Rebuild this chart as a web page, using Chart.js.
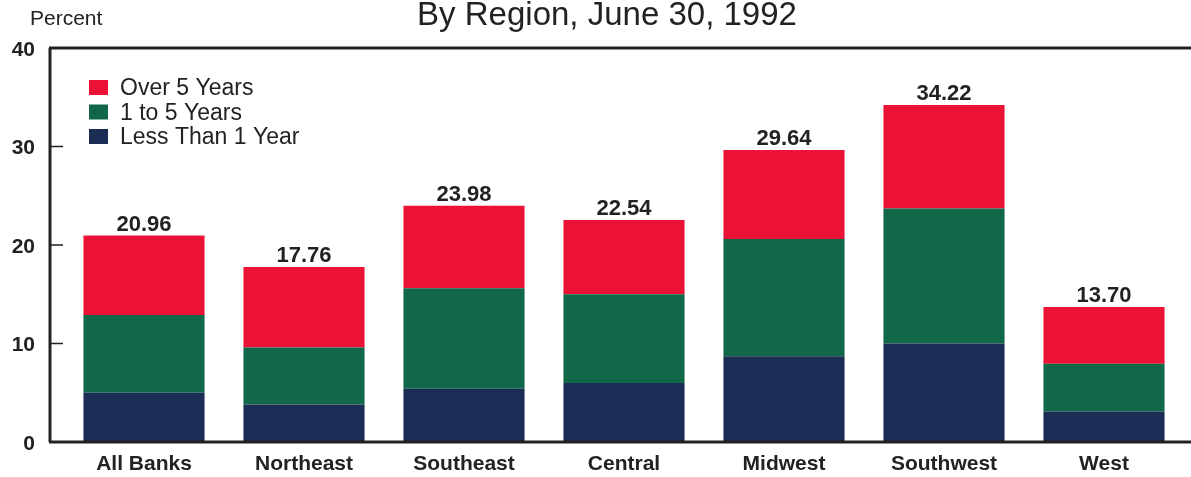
<!DOCTYPE html>
<html>
<head>
<meta charset="utf-8">
<script src="https://cdn.jsdelivr.net/npm/chart.js@4"></script>
<style>
  html, body { margin: 0; padding: 0; background: #fff; }
  #wrap { position: relative; width: 1191px; height: 477px; }
</style>
</head>
<body>
<div id="wrap"><canvas id="myChart" width="1191" height="477"></canvas></div>
<script>
const regions = ['All Banks', 'Northeast', 'Southeast', 'Central', 'Midwest', 'Southwest', 'West']
const lessThan1 = [5.0, 3.8, 5.4, 6.0, 8.7, 10.0, 3.1]
const oneTo5 = [7.9, 5.8, 10.2, 9.0, 11.9, 13.7, 4.85]
const over5 = [8.06, 8.16, 8.38, 7.54, 9.04, 10.52, 5.75]
const totals = ['20.96', '17.76', '23.98', '22.54', '29.64', '34.22', '13.70']
const yTicks = [0, 10, 20, 30, 40]

const RED = '#ec1236'
const GREEN = '#106848'
const NAVY = '#1b2d55'
const INK = '#222'
const FONT = '"Liberation Sans", Arial, sans-serif'

// axis frame, inward ticks, tick + value labels, legend, titles
const decor = {
  id: 'decor',
  afterDatasetsDraw(chart) {
    const ctx = chart.ctx
    const x = chart.scales.x
    const y = chart.scales.y
    const area = chart.chartArea
    const axisX = area.left - 14
    ctx.save()
    ctx.strokeStyle = INK
    ctx.lineWidth = 3
    ctx.beginPath()
    ctx.moveTo(axisX - 1, y.getPixelForValue(40))
    ctx.lineTo(1191, y.getPixelForValue(40))
    ctx.moveTo(axisX, y.getPixelForValue(40))
    ctx.lineTo(axisX, y.getPixelForValue(0))
    ctx.moveTo(axisX - 1, y.getPixelForValue(0))
    ctx.lineTo(1191, y.getPixelForValue(0))
    ctx.stroke()
    ctx.lineWidth = 1.5
    ctx.beginPath()
    yTicks.slice(1, 4).forEach(v => {
      const py = y.getPixelForValue(v)
      ctx.moveTo(axisX, py)
      ctx.lineTo(axisX + 13, py)
    })
    ctx.stroke()

    // y tick labels
    ctx.fillStyle = INK
    ctx.font = 'bold 21px ' + FONT
    ctx.textAlign = 'right'
    ctx.textBaseline = 'middle'
    yTicks.forEach(v => {
      ctx.fillText(String(v), 35, y.getPixelForValue(v) + 2)
    })

    // category labels under the axis
    ctx.textAlign = 'center'
    regions.forEach((r, i) => {
      ctx.fillText(r, x.getPixelForValue(i), y.getPixelForValue(0) + 22)
    })

    // totals above bars
    const top = chart.getDatasetMeta(2)
    ctx.font = 'bold 22px ' + FONT
    ctx.textBaseline = 'alphabetic'
    top.data.forEach((bar, i) => {
      ctx.fillText(totals[i], bar.x, bar.y - 5)
    })

    // legend
    ctx.font = '23px ' + FONT
    ctx.textAlign = 'left'
    ctx.textBaseline = 'middle'
    const items = [2, 1, 0]
    items.forEach((di, k) => {
      const ds = chart.data.datasets[di]
      const cy = 88 + k * 24.5
      ctx.fillStyle = ds.backgroundColor
      ctx.fillRect(89, cy - 8, 19, 15)
      ctx.fillStyle = INK
      ctx.fillText(ds.label, 120, cy + 1)
    })

    // titles
    ctx.font = '33px ' + FONT
    ctx.textAlign = 'center'
    ctx.fillText('By Region, June 30, 1992', 607, 16)
    ctx.font = '21px ' + FONT
    ctx.textAlign = 'left'
    ctx.fillText('Percent', 30, 19)
    ctx.restore()
  }
}

const ctx = document.getElementById('myChart').getContext('2d')
const myChart = new Chart(ctx, {
  type: 'bar',
  data: {
    labels: regions,
    datasets: [
      { label: 'Less Than 1 Year', data: lessThan1, backgroundColor: NAVY },
      { label: '1 to 5 Years', data: oneTo5, backgroundColor: GREEN },
      { label: 'Over 5 Years', data: over5, backgroundColor: RED }
    ]
  },
  options: {
    responsive: false,
    animation: false,
    devicePixelRatio: 1,
    layout: { padding: { top: 48, right: 7, bottom: 35, left: 0 } },
    datasets: { bar: { categoryPercentage: 1.0, barPercentage: 0.757 } },
    plugins: {
      legend: { display: false },
      tooltip: { enabled: false },
      title: { display: false }
    },
    scales: {
      x: {
        stacked: true,
        grid: { display: false, drawTicks: false },
        border: { display: false },
        ticks: { display: false }
      },
      y: {
        stacked: true,
        min: 0,
        max: 40,
        afterFit(scale) { scale.width = 64 },
        grid: { display: false, drawTicks: false },
        border: { display: false },
        ticks: { display: false }
      }
    }
  },
  plugins: [decor]
})
</script>
</body>
</html>
